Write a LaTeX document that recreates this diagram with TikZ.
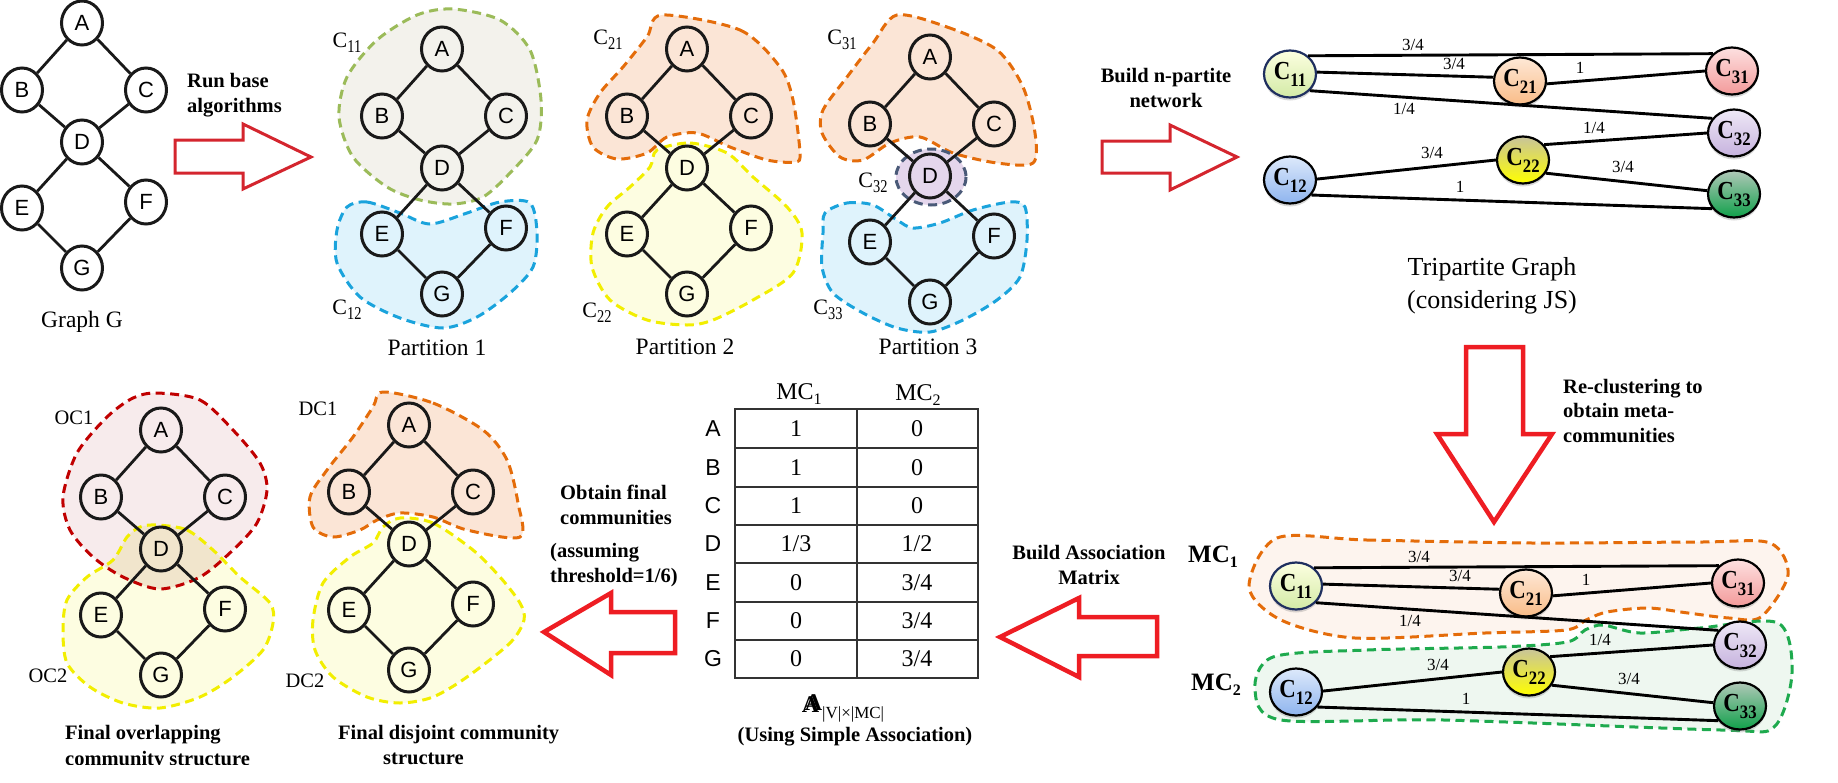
\documentclass[tikz,border=0pt]{standalone}
\usepackage{fontspec}
\setmainfont{Liberation Serif}
\setsansfont{Liberation Sans}
\usetikzlibrary{shapes.geometric,shadows}

\definecolor{redA}{HTML}{D4252E}
\definecolor{redB}{HTML}{EE1D23}
\definecolor{olive}{HTML}{9BBB59}
\definecolor{oliveF}{HTML}{F3F2EC}
\definecolor{blueB}{HTML}{1AA3DC}
\definecolor{blueF}{HTML}{DFF3FC}
\definecolor{orgB}{HTML}{E46C0A}
\definecolor{orgF}{HTML}{FBE5D6}
\definecolor{yelB}{HTML}{F2EE00}
\definecolor{yelF}{HTML}{FDFDE1}
\definecolor{purB}{HTML}{4A5A78}
\definecolor{purF}{HTML}{E4D6EC}
\definecolor{ocB}{HTML}{C00000}
\definecolor{ocF}{HTML}{F7EBEC}
\definecolor{ovF}{HTML}{F1E5CC}
\definecolor{mcoF}{HTML}{FDF4EE}
\definecolor{mcgB}{HTML}{1EAA4E}
\definecolor{mcgF}{HTML}{EEF7F0}
\definecolor{navy}{HTML}{1F2F5F}
\definecolor{gridc}{HTML}{333333}

\newcommand\fsz[2]{\fontsize{#1}{#2}\selectfont}
\newcommand\Cs[1]{C\raisebox{-5pt}{\scalebox{0.8}[1]{\fsz{18}{18}#1}}}
\newcommand\Cb[1]{\scalebox{0.88}[1]{C\raisebox{-7pt}{\fsz{19}{19}\bfseries #1}}}
\newcommand\MCs[1]{MC\raisebox{-5pt}{\fsz{16}{16}#1}}

\tikzset{
  vx/.style={ellipse, draw=black!90, line width=3pt, minimum width=41pt, minimum height=44pt, inner sep=0pt, font=\sffamily\fsz{22}{22}},
  ed/.style={line width=2.8pt, draw=black!90},
  blob/.style={line width=3pt, dash pattern=on 9pt off 5.5pt},
  cn/.style={ellipse, draw=black, line width=2.2pt, minimum width=52pt, minimum height=47pt, inner sep=0pt, font=\fsz{26}{26}\bfseries, drop shadow={shadow xshift=0pt, shadow yshift=-3pt, opacity=0.3}},
  ted/.style={line width=2.9pt, draw=black},
  wl/.style={font=\fsz{17}{17}, inner sep=0pt},
  lbl/.style={font=\fsz{22}{22}, inner sep=0pt},
  captxt/.style={font=\fsz{23.5}{28}, inner sep=0pt, align=center},
  bt/.style={font=\bfseries\fsz{20.5}{24.5}, inner sep=0pt},
  barrowA/.style={draw=redA, line width=3pt, fill=white, line join=miter},
  barrowB/.style={draw=redB, line width=4.5pt, fill=white, line join=miter},
  tcell/.style={font=\fsz{24}{24}, inner sep=0pt},
  trow/.style={font=\sffamily\fsz{23}{23}, inner sep=0pt},
}

\newcommand\sevengraph[3]{%
  \begin{scope}[shift={(#2,#3)}]
    \node[vx] (#1A) at (0,0) {A};
    \node[vx] (#1B) at (-60,67) {B};
    \node[vx] (#1C) at (64,67) {C};
    \node[vx] (#1D) at (0,119) {D};
    \node[vx] (#1E) at (-60,185) {E};
    \node[vx] (#1F) at (64,179) {F};
    \node[vx] (#1G) at (0,245) {G};
    \draw[ed] (#1A)--(#1B) (#1A)--(#1C) (#1B)--(#1D) (#1C)--(#1D)
              (#1D)--(#1E) (#1D)--(#1F) (#1E)--(#1G) (#1F)--(#1G);
  \end{scope}}

\newcommand\tripart[1]{%
  \node[cn, draw=navy, top color=green!8!yellow!12!white, bottom color={rgb,255:red,211;green,234;blue,166}] (#1c11) at (1290,74) {\Cb{11}};
  \node[cn, top color={rgb,255:red,254;green,232;blue,214}, bottom color={rgb,255:red,249;green,188;blue,136}] (#1c21) at (1520,81) {\Cb{21}};
  \node[cn, top color={rgb,255:red,253;green,224;blue,224}, bottom color={rgb,255:red,243;green,154;blue,154}] (#1c31) at (1732,71) {\Cb{31}};
  \node[cn, top color={rgb,255:red,238;green,232;blue,246}, bottom color={rgb,255:red,198;green,178;blue,222}] (#1c32) at (1734,133) {\Cb{32}};
  \node[cn, top color={rgb,255:red,200;green,196;blue,154}, middle color={rgb,255:red,248;green,248;blue,0}, bottom color={rgb,255:red,255;green,255;blue,0}] (#1c22) at (1523,160) {\Cb{22}};
  \node[cn, top color={rgb,255:red,221;green,233;blue,251}, bottom color={rgb,255:red,142;green,180;blue,238}] (#1c12) at (1290,180) {\Cb{12}};
  \node[cn, top color={rgb,255:red,176;green,200;blue,184}, middle color={rgb,255:red,60;green,154;blue,98}, bottom color={rgb,255:red,16;green,160;blue,74}] (#1c33) at (1734,194) {\Cb{33}};
  \draw[ted] (#1c11.45) -- (#1c31.138);
  \draw[ted] (#1c11.4) -- (#1c21.172);
  \draw[ted] (#1c21.-6) -- (#1c31.180);
  \draw[ted] (#1c11.-40) -- (#1c32.146);
  \draw[ted] (#1c22.36) -- (#1c32.180);
  \draw[ted] (#1c12.2) -- (#1c22.180);
  \draw[ted] (#1c22.-30) -- (#1c33.173);
  \draw[ted] (#1c12.-35) -- (#1c33.-146);
  \node[wl] (#1w1) at (1413,45) {3/4};
  \node[wl] (#1w2) at (1454,64) {3/4};
  \node[wl] (#1w3) at (1580,68) {1};
  \node[wl] (#1w4) at (1404,109) {1/4};
  \node[wl] (#1w5) at (1594,128) {1/4};
  \node[wl] (#1w6) at (1432,153) {3/4};
  \node[wl] (#1w7) at (1623,167) {3/4};
  \node[wl] (#1w8) at (1460,187) {1};
}

\begin{document}
\begin{tikzpicture}[x=1pt,y=-1pt]
\useasboundingbox (0,0) rectangle (1838,782);

% ---------------- Graph G
\sevengraph{g}{82}{23}
\node[captxt] (lgG) at (82,322) {Graph G};

% arrow 1
\draw[barrowA] (175,140) -- (243,140) -- (243,124) -- (311,157) -- (243,189) -- (243,173) -- (175,173) -- cycle;
\node[bt, anchor=west, align=left] (trun) at (187,95) {Run base\\algorithms};

% ---------------- Partition 1
\draw[blob, draw=olive, fill=oliveF] plot[smooth cycle] coordinates {(453,9) (500,20) (530,50) (541,100) (537,140) (510,173) (483,197) (453,204) (420,200) (387,187) (353,157) (339,117) (347,77) (377,40) (417,15)};
\draw[blob, draw=blueB, fill=blueF] plot[smooth cycle] coordinates {(347,207) (367,202) (400,213) (430,224) (467,213) (500,202) (530,203) (537,233) (533,267) (510,293) (477,317) (443,328) (400,318) (360,297) (337,263) (337,230)};
\sevengraph{p}{442}{49}
\node[lbl] (l11) at (347,43) {\Cs{11}};
\node[lbl] (l12) at (347,310) {\Cs{12}};
\node[captxt] (lp1) at (437,348) {Partition 1};

% ---------------- Partition 2
\draw[blob, draw=orgB, fill=orgF] plot[smooth cycle] coordinates {(662,15) (740,30) (780,67) (793,100) (800,153) (795,162) (767,160) (730,147) (697,133) (667,137) (647,153) (617,159) (593,147) (587,120) (600,93) (623,67) (647,37)};
\draw[blob, draw=yelB, fill=yelF] plot[smooth cycle] coordinates {(657,150) (690,143) (727,153) (753,177) (787,207) (802,233) (793,273) (753,300) (713,320) (687,325) (647,320) (610,300) (592,267) (593,233) (607,207) (630,187) (650,167)};
\sevengraph{q}{687}{49}
\node[lbl] (l21) at (608,40) {\Cs{21}};
\node[lbl] (l22) at (597,313) {\Cs{22}};
\node[captxt] (lp2) at (685,347) {Partition 2};

% ---------------- Partition 3
\draw[blob, draw=orgB, fill=orgF] plot[smooth cycle] coordinates {(897,15) (947,27) (997,50) (1023,87) (1035,133) (1033,163) (997,163) (953,153) (920,137) (890,143) (863,160) (840,157) (822,133) (823,110) (847,77) (873,43)};
\draw[blob, draw=blueB, fill=blueF] plot[smooth cycle] coordinates {(825,213) (847,203) (873,205) (897,220) (913,228) (940,223) (973,210) (1010,202) (1025,207) (1027,240) (1020,277) (997,300) (963,320) (930,332) (897,328) (863,313) (833,293) (822,267) (823,233)};
\draw[blob, draw=purB, fill=purF] (931,177) ellipse [x radius=35, y radius=28];
\sevengraph{r}{930}{57}
\node[lbl] (l31) at (842,40) {\Cs{31}};
\node[lbl] (l32) at (873,183) {\Cs{32}};
\node[lbl] (l33) at (828,310) {\Cs{33}};
\node[captxt] (lp3) at (928,347) {Partition 3};

% arrow 2
\draw[barrowA] (1102,141) -- (1170,141) -- (1170,125) -- (1237,157) -- (1170,190) -- (1170,173) -- (1102,173) -- cycle;
\node[bt, align=center] (tbuild) at (1166,88) {Build n-partite\\network};

% ---------------- Tripartite graph (top)
\tripart{t}
\node[font=\fsz{26}{33}, inner sep=0pt, align=center] (ttri) at (1492,286) {Tripartite Graph\\(considering JS)};

% down arrow
\draw[barrowB] (1466,347) -- (1523,347) -- (1523,434) -- (1552,434) -- (1494,522) -- (1437,434) -- (1466,434) -- cycle;
\node[bt, anchor=west, align=left] (trecl) at (1563,411) {Re-clustering to\\obtain meta-\\communities};

% ---------------- Meta-communities (bottom)
\draw[blob, draw=orgB, fill=mcoF] plot[smooth cycle] coordinates {(1277,538) (1367,540) (1533,543) (1700,542) (1770,543) (1788,575) (1761,617) (1729,618) (1688,613) (1648,608) (1607,612) (1586,620) (1566,630) (1485,633) (1355,638) (1281,620) (1249,587)};
\draw[blob, draw=mcgB, fill=mcgF] plot[smooth cycle] coordinates {(1273,657) (1367,650) (1500,647) (1567,642) (1585,630) (1603,625) (1640,633) (1700,628) (1778,623) (1792,673) (1774,727) (1721,730) (1444,720) (1281,720) (1255,690)};
\begin{scope}[shift={(6,512)}]
\tripart{b}
\end{scope}
\node[font=\bfseries\fsz{25}{25}, inner sep=0pt] (lmc1) at (1213,557) {\MCs{1}};
\node[font=\bfseries\fsz{25}{25}, inner sep=0pt] (lmc2) at (1216,685) {\MCs{2}};

% association arrow
\draw[barrowB] (1157,617) -- (1079,617) -- (1079,598) -- (1000,637) -- (1079,677) -- (1079,656) -- (1157,656) -- cycle;
\node[bt, align=center] (tassoc) at (1089,565) {Build Association\\Matrix};

% ---------------- Table
\draw[line width=1.5pt, draw=gridc] (735,409) rectangle (978,678);
\draw[line width=1.5pt, draw=gridc] (857,409) -- (857,678);
\foreach \yy in {448,487,525,563,602,640}
  \draw[line width=1.5pt, draw=gridc] (735,\yy) -- (978,\yy);
\node[tcell] (hmc1) at (799,394) {\MCs{1}};
\node[tcell] (hmc2) at (918,395) {\MCs{2}};
\foreach \lab/\yy/\va/\vb in {A/428.5/1/0, B/467.5/1/0, C/506/1/0, D/544/1\slash 3/1\slash 2, E/582.5/0/3\slash 4, F/621/0/3\slash 4, G/659/0/3\slash 4}{
  \node[trow] (row\lab) at (713,\yy) {\lab};
  \node[tcell] (ca\lab) at (796,\yy) {\va};
  \node[tcell] (cb\lab) at (917,\yy) {\vb};
}
\node[inner sep=0pt, font=\fsz{24}{24}] (amat) at (843,708) {\rlap{\bfseries A}\hspace{3pt}\raisebox{2pt}{\bfseries A}\raisebox{-6pt}{\fsz{17}{17}|V|×|MC|}};
\node[bt] (tusing) at (855,737) {(Using Simple Association)};

% obtain arrow
\draw[barrowB] (675,612) -- (611,612) -- (611,593) -- (544,632) -- (611,675) -- (611,653) -- (675,653) -- cycle;
\node[bt, anchor=west, align=left] (tobt) at (560,505) {Obtain final\\communities};
\node[bt, anchor=west, align=left] (tass) at (550,565) {(assuming\\threshold=1/6)};

% ---------------- Overlapping result
\fill[ocF] plot[smooth cycle] coordinates {(157,393) (200,400) (233,430) (260,463) (267,490) (257,523) (233,550) (200,577) (160,589) (123,577) (93,557) (70,530) (63,497) (77,453) (107,417) (133,398)};
\fill[yelF] plot[smooth cycle] coordinates {(157,525) (187,530) (213,550) (240,577) (270,603) (273,623) (263,650) (233,677) (200,697) (160,708) (123,703) (90,687) (67,663) (63,630) (67,600) (87,577) (113,560) (127,537) (140,527)};
\begin{scope}
  \clip plot[smooth cycle] coordinates {(157,525) (187,530) (213,550) (240,577) (270,603) (273,623) (263,650) (233,677) (200,697) (160,708) (123,703) (90,687) (67,663) (63,630) (67,600) (87,577) (113,560) (127,537) (140,527)};
  \fill[ovF] plot[smooth cycle] coordinates {(157,393) (200,400) (233,430) (260,463) (267,490) (257,523) (233,550) (200,577) (160,589) (123,577) (93,557) (70,530) (63,497) (77,453) (107,417) (133,398)};
\end{scope}
\draw[blob, draw=ocB] plot[smooth cycle] coordinates {(157,393) (200,400) (233,430) (260,463) (267,490) (257,523) (233,550) (200,577) (160,589) (123,577) (93,557) (70,530) (63,497) (77,453) (107,417) (133,398)};
\draw[blob, draw=yelB] plot[smooth cycle] coordinates {(157,525) (187,530) (213,550) (240,577) (270,603) (273,623) (263,650) (233,677) (200,697) (160,708) (123,703) (90,687) (67,663) (63,630) (67,600) (87,577) (113,560) (127,537) (140,527)};
\sevengraph{o}{161}{430}
\node[font=\fsz{20.5}{20.5}, inner sep=0pt] (loc1) at (74,418) {OC1};
\node[font=\fsz{20.5}{20.5}, inner sep=0pt] (loc2) at (48,676) {OC2};
\node[bt, anchor=west] (tfo1) at (65,735) {Final overlapping};
\begin{scope}
  \clip (0,700) rectangle (300,764);
  \node[bt, anchor=west] (tfo2) at (65,761) {community structure};
\end{scope}

% ---------------- Disjoint result
\draw[blob, draw=orgB, fill=orgF] plot[smooth cycle] coordinates {(383,392) (433,403) (483,430) (507,460) (518,503) (520,537) (467,530) (433,517) (400,513) (377,520) (360,530) (333,537) (313,527) (310,497) (327,470) (353,437) (373,407)};
\draw[blob, draw=yelB, fill=yelF] plot[smooth cycle] coordinates {(400,518) (433,523) (473,550) (500,577) (520,603) (524,620) (510,643) (467,677) (433,697) (400,703) (367,697) (333,677) (315,650) (313,620) (323,583) (350,557) (373,543) (383,527)};
\sevengraph{d}{409}{425}
\node[font=\fsz{20.5}{20.5}, inner sep=0pt] (ldc1) at (318,409) {DC1};
\node[font=\fsz{20.5}{20.5}, inner sep=0pt] (ldc2) at (305,681) {DC2};
\node[bt, anchor=west, align=left] (tfd) at (338,745) {Final disjoint community\\\hspace*{45pt}structure};

\end{tikzpicture}
\end{document}
